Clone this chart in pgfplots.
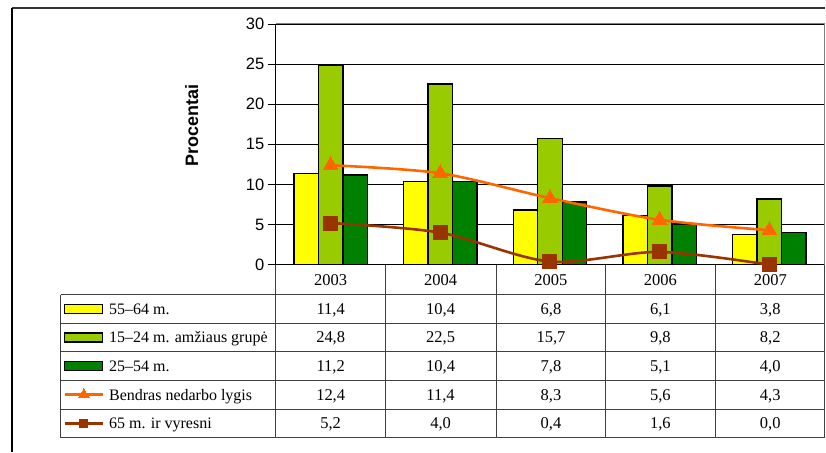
\documentclass[border=0pt]{standalone}
\usepackage{fontspec}
\setmainfont{Liberation Serif}
\setsansfont{Liberation Sans}
\usepackage{pgfplots}
\usepackage{pgfplotstable}
\pgfplotsset{compat=1.18}
\definecolor{cyel}{HTML}{FFFF00}
\definecolor{clg}{HTML}{99CC00}
\definecolor{cdg}{HTML}{008000}
\definecolor{cor}{HTML}{FF6600}
\definecolor{cbr}{HTML}{993300}
\definecolor{tline}{HTML}{404040}

\pgfplotstableread{
x a b c t o
0 11.4 24.8 11.2 12.4 5.2
1 10.4 22.5 10.4 11.4 4.0
2 6.8 15.7 7.8 8.3 0.4
3 6.1 9.8 5.1 5.6 1.6
4 3.8 8.2 4.0 4.3 0.0
}\data

\begin{document}
\begin{tikzpicture}
\path (0pt,0pt) rectangle (826pt,-452pt);
\begin{axis}[at={(276pt,-265pt)}, anchor=south west, scale only axis,
  width=549pt, height=241pt,
  xmin=-0.5, xmax=4.5, ymin=0, ymax=30, ytick={0,5,...,30}, xtick=\empty,
  axis lines*=left, axis line style={-, line width=1.2pt, black},
  ymajorgrids, grid style={black, line width=0.8pt},
  tick align=outside, major tick length=8pt, ytick style={black, line width=0.8pt},
  yticklabel style={font=\sffamily\fontsize{16.5}{18}\selectfont},
  /pgf/number format/assume math mode=true,
  clip=false,
  legend cell align=left,
  legend style={at={(-0.3868,-0.12448)}, anchor=north west, draw=none, fill=none,
    inner sep=0pt, outer sep=0pt, row sep=0pt, column sep=5pt,
    font=\fontsize{16}{16}\selectfont,
    nodes={inner xsep=0pt, inner ysep=7.6pt, text height=12pt, text depth=1.4pt}},
  bar legend/.style={legend image code/.code={\draw[##1, line width=1.2pt] (0pt,-4.5pt) rectangle (38pt,4.5pt);}},
  ln legend/.style={legend image code/.code={\draw[##1, mark repeat=2, mark phase=2, mark size=#1] plot coordinates {(0pt,0pt) (19pt,0pt) (38pt,0pt)};}},
]
\draw[gray, line width=1pt] (rel axis cs:0,1) -- (rel axis cs:1,1) -- (rel axis cs:1,0);
\addplot[ybar, bar width=24.5pt, bar shift=-24.5pt, fill=cyel, draw=black, line width=1.4pt, bar legend] table[x=x,y=a]{\data};
\addlegendentry{55–64 m.}
\addplot[ybar, bar width=24.5pt, bar shift=0pt, fill=clg, draw=black, line width=1.4pt, bar legend] table[x=x,y=b]{\data};
\addlegendentry{15–24 m. amžiaus grupė}
\addplot[ybar, bar width=24.5pt, bar shift=24.5pt, fill=cdg, draw=black, line width=1.4pt, bar legend] table[x=x,y=c]{\data};
\addlegendentry{25–54 m.}
\addplot[smooth, tension=0.5, color=cor, line width=2.6pt, mark=triangle*, mark size=8.5pt, mark options={solid, line width=0pt}, ln legend=6pt] table[x=x,y=t]{\data};
\addlegendentry{Bendras nedarbo lygis}
\addplot[smooth, tension=0.5, color=cbr, line width=2.6pt, mark=square*, mark size=7pt, mark options={solid, line width=0pt}, ln legend=4pt] table[x=x,y=o]{\data};
\addlegendentry{65 m. ir vyresni}
\end{axis}
\begin{scope}[x=1pt, y=-1pt]
  % outer frame
  \draw[black!80, line width=1.6pt] (12,8) -- (826,8);
  \draw[black, line width=1.2pt] (12,8) -- (12,452);
  % table grid
  \foreach \yy in {295,323.6,352.2,380.8,409.4,438} \draw[tline, line width=1pt] (61,\yy) -- (825.5,\yy);
  \draw[tline, line width=1pt] (61,295) -- (61,438);
  \foreach \xx in {276,386,497,606,716,825.5} \draw[tline, line width=1pt] (\xx,265) -- (\xx,438);
  % y label
  \node[rotate=90, font=\sffamily\bfseries\fontsize{18}{18}\selectfont] at (192,126) {Procentai};
  % years
  \foreach \xx/\yr in {331/2003,441/2004,551.5/2005,661/2006,771/2007}
    \node[anchor=base, font=\fontsize{16.5}{16.5}\selectfont, inner sep=0pt] at (\xx,285.5) {\yr};
  % values
  \def\rowvals#1#2#3#4#5#6{%
    \foreach \xx/\v in {331/{#2},441/{#3},551.5/{#4},661/{#5},771/{#6}}
      \node[anchor=base, font=\fontsize{16.5}{16.5}\selectfont, inner sep=0pt] at (\xx,#1) {\v};}
  \rowvals{314.6}{11,4}{10,4}{6,8}{6,1}{3,8}
  \rowvals{343.2}{24,8}{22,5}{15,7}{9,8}{8,2}
  \rowvals{371.8}{11,2}{10,4}{7,8}{5,1}{4,0}
  \rowvals{400.4}{12,4}{11,4}{8,3}{5,6}{4,3}
  \rowvals{429.0}{5,2}{4,0}{0,4}{1,6}{0,0}
\end{scope}
\end{tikzpicture}
\end{document}
